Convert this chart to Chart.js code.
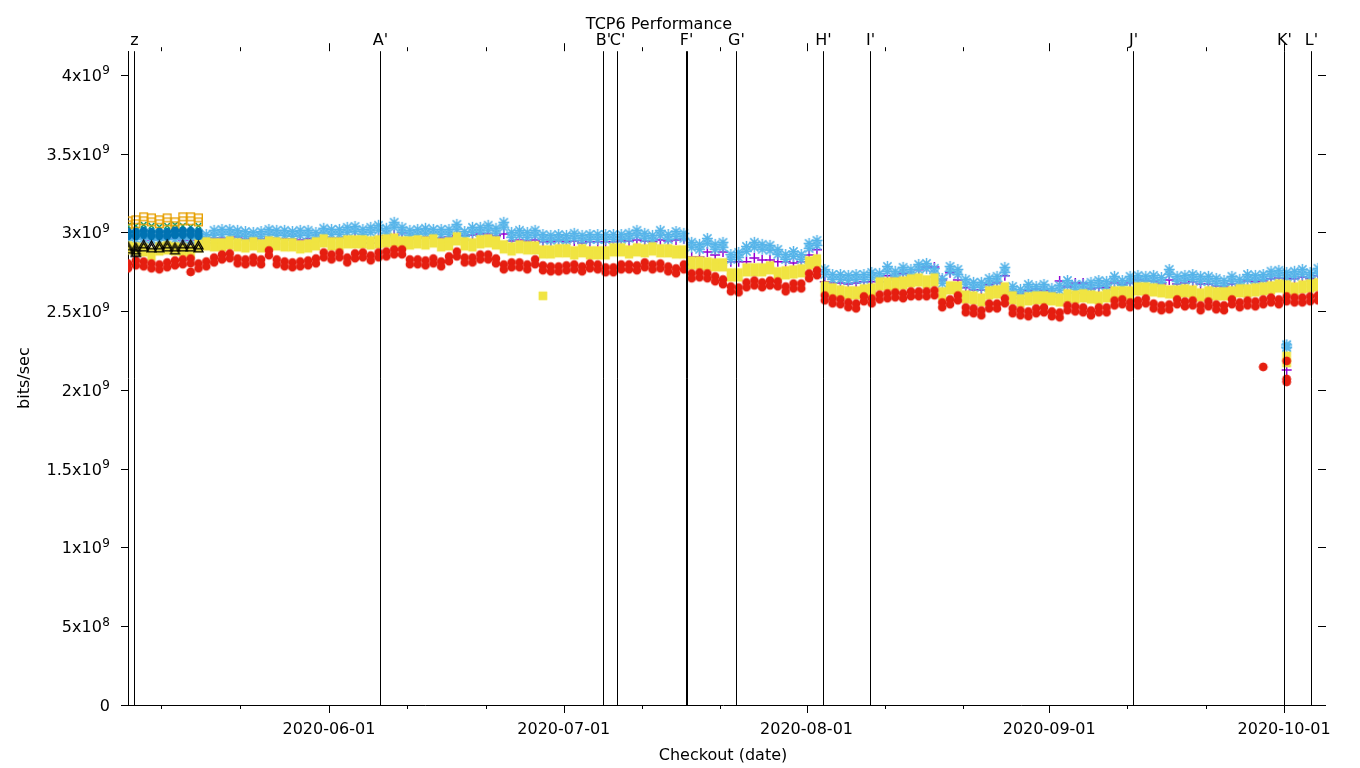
<!DOCTYPE html>
<html>
<head>
<meta charset="utf-8">
<title>TCP6 Performance</title>
<script src="https://cdn.jsdelivr.net/npm/chart.js@4.4.1/dist/chart.umd.min.js"></script>
<style>
  html, body { margin: 0; padding: 0; background: #fff; }
  canvas { display: block; }
</style>
</head>
<body>
<canvas id="grafica" width="1360" height="768"></canvas>
<script>
// una muestra por día, desde 2020-05-06 (valores en 10^9 bits/sec)
const DAY = 86400000;
const firstSample = Date.UTC(2020, 4, 6, 8);

const lightBlue = [
  2.965, 2.971, 2.978, 2.971, 2.965, 2.971, 2.971, 2.978, 2.971, 2.978,
  2.971, 2.997, 3.003, 3.003, 2.997, 2.990, 2.984, 2.990, 3.003, 2.997,
  2.997, 2.990, 2.997, 2.997, 2.984, 3.010, 3.003, 3.003, 3.016, 3.022,
  3.003, 3.016, 3.029, 3.010, 3.048, 3.016, 2.997, 3.003, 3.010, 3.003,
  3.003, 3.003, 3.035, 2.990, 3.016, 3.016, 3.029, 3.010, 3.048, 2.984,
  2.997, 2.984, 2.997, 2.971, 2.965, 2.971, 2.965, 2.978, 2.965, 2.971,
  2.971, 2.971, 2.971, 2.971, 2.978, 2.997, 2.978, 2.965, 2.997, 2.971,
  2.990, 2.978, 2.921, 2.908, 2.946, 2.908, 2.921, 2.844, 2.857, 2.895,
  2.921, 2.908, 2.902, 2.876, 2.844, 2.863, 2.844, 2.914, 2.933, 2.749,
  2.717, 2.717, 2.711, 2.717, 2.717, 2.730, 2.724, 2.768, 2.737, 2.762,
  2.749, 2.781, 2.787, 2.756, 2.692, 2.768, 2.749, 2.686, 2.667, 2.667,
  2.692, 2.705, 2.762, 2.641, 2.622, 2.654, 2.641, 2.654, 2.629, 2.648,
  2.679, 2.654, 2.654, 2.667, 2.679, 2.673, 2.705, 2.679, 2.705, 2.711,
  2.705, 2.711, 2.698, 2.749, 2.705, 2.711, 2.717, 2.705, 2.705, 2.692,
  2.679, 2.705, 2.686, 2.717, 2.711, 2.717, 2.737, 2.743, 2.730, 2.737,
  2.749, 2.730, 2.756
];
const yellow = [
  2.902, 2.895, 2.889, 2.863, 2.895, 2.902, 2.895, 2.889, 2.876, 2.914,
  2.927, 2.921, 2.921, 2.933, 2.921, 2.914, 2.927, 2.914, 2.933, 2.927,
  2.921, 2.921, 2.908, 2.914, 2.927, 2.946, 2.927, 2.927, 2.940, 2.940,
  2.940, 2.933, 2.940, 2.946, 2.952, 2.933, 2.933, 2.940, 2.933, 2.946,
  2.921, 2.927, 2.959, 2.927, 2.921, 2.940, 2.946, 2.933, 2.908, 2.895,
  2.908, 2.902, 2.902, 2.876, 2.876, 2.883, 2.883, 2.870, 2.883, 2.870,
  2.870, 2.870, 2.889, 2.889, 2.876, 2.889, 2.883, 2.895, 2.883, 2.883,
  2.876, 2.876, 2.806, 2.806, 2.800, 2.794, 2.794, 2.730, 2.730, 2.762,
  2.762, 2.762, 2.775, 2.737, 2.743, 2.749, 2.756, 2.806, 2.819, 2.648,
  2.635, 2.622, 2.616, 2.616, 2.629, 2.635, 2.673, 2.673, 2.673, 2.679,
  2.692, 2.698, 2.686, 2.698, 2.610, 2.648, 2.648, 2.590, 2.584, 2.571,
  2.616, 2.622, 2.641, 2.584, 2.565, 2.578, 2.584, 2.584, 2.578, 2.571,
  2.597, 2.590, 2.597, 2.590, 2.584, 2.597, 2.616, 2.616, 2.616, 2.641,
  2.641, 2.635, 2.629, 2.622, 2.622, 2.629, 2.622, 2.603, 2.616, 2.610,
  2.610, 2.616, 2.629, 2.629, 2.635, 2.641, 2.648, 2.660, 2.654, 2.641,
  2.654, 2.660, 2.667
];
const red = [
  2.787, 2.806, 2.800, 2.787, 2.781, 2.794, 2.806, 2.813, 2.819, 2.787,
  2.800, 2.825, 2.844, 2.851, 2.819, 2.813, 2.825, 2.813, 2.870, 2.813,
  2.800, 2.794, 2.800, 2.806, 2.819, 2.857, 2.844, 2.857, 2.825, 2.851,
  2.857, 2.838, 2.857, 2.863, 2.876, 2.876, 2.813, 2.813, 2.806, 2.819,
  2.800, 2.832, 2.863, 2.825, 2.825, 2.844, 2.844, 2.819, 2.781, 2.794,
  2.794, 2.781, 2.813, 2.775, 2.768, 2.768, 2.775, 2.781, 2.768, 2.787,
  2.781, 2.762, 2.762, 2.781, 2.781, 2.775, 2.794, 2.781, 2.787, 2.768,
  2.756, 2.781, 2.724, 2.730, 2.724, 2.705, 2.686, 2.641, 2.635, 2.667,
  2.679, 2.667, 2.679, 2.673, 2.641, 2.660, 2.660, 2.724, 2.743, 2.584,
  2.565, 2.559, 2.540, 2.533, 2.578, 2.565, 2.590, 2.597, 2.603, 2.597,
  2.610, 2.610, 2.610, 2.616, 2.540, 2.559, 2.584, 2.508, 2.502, 2.489,
  2.533, 2.533, 2.565, 2.502, 2.489, 2.483, 2.502, 2.508, 2.483, 2.476,
  2.521, 2.514, 2.508, 2.489, 2.508, 2.508, 2.552, 2.559, 2.540, 2.552,
  2.565, 2.533, 2.521, 2.527, 2.559, 2.546, 2.552, 2.521, 2.546, 2.527,
  2.521, 2.559, 2.540, 2.552, 2.546, 2.559, 2.571, 2.559, 2.578, 2.571,
  2.571, 2.578, 2.584
];
const purple = [
  2.952, 2.959, 2.959, 2.952, 2.952, 2.959, 2.959, 2.952, 2.952, 2.952,
  2.952, 2.965, 2.965, 2.959, 2.971, 2.959, 2.952, 2.959, 2.965, 2.959,
  2.959, 2.959, 2.952, 2.959, 2.959, 2.971, 2.965, 2.965, 2.971, 2.971,
  2.959, 2.933, 2.965, 2.978, 2.984, 2.997, 2.965, 2.965, 2.971, 2.965,
  2.965, 2.971, 2.978, 2.978, 2.984, 2.990, 2.990, 2.978, 2.990, 2.946,
  2.952, 2.946, 2.952, 2.940, 2.940, 2.946, 2.940, 2.946, 2.933, 2.940,
  2.940, 2.940, 2.940, 2.946, 2.946, 2.952, 2.946, 2.940, 2.952, 2.946,
  2.952, 2.959, 2.844, 2.844, 2.876, 2.857, 2.876, 2.813, 2.813, 2.813,
  2.838, 2.825, 2.825, 2.813, 2.813, 2.806, 2.813, 2.857, 2.889, 2.686,
  2.679, 2.679, 2.673, 2.679, 2.686, 2.686, 2.686, 2.724, 2.711, 2.737,
  2.724, 2.762, 2.781, 2.781, 2.698, 2.743, 2.698, 2.648, 2.635, 2.635,
  2.667, 2.679, 2.724, 2.622, 2.610, 2.629, 2.641, 2.629, 2.616, 2.692,
  2.654, 2.679, 2.679, 2.641, 2.648, 2.648, 2.679, 2.667, 2.679, 2.698,
  2.692, 2.692, 2.673, 2.698, 2.673, 2.679, 2.686, 2.673, 2.673, 2.660,
  2.654, 2.673, 2.660, 2.692, 2.686, 2.692, 2.705, 2.711, 2.705, 2.705,
  2.717, 2.705, 2.724
];
// series que solo aparecen los primeros 10 días
const orange   = [3.060, 3.067, 3.086, 3.079, 3.067, 3.079, 3.054, 3.086, 3.086, 3.079];
const green    = [3.041, 3.041, 3.048, 3.041, 3.035, 3.041, 3.048, 3.041, 3.035, 3.041];
const darkBlue = [2.990, 2.990, 2.997, 2.990, 2.990, 2.990, 2.997, 2.997, 2.997, 2.990];
const black    = [2.902, 2.895, 2.914, 2.908, 2.908, 2.914, 2.895, 2.914, 2.914, 2.908];

// muestras sueltas [día, valor]
const redExtra       = [[8, 2.749], [145, 2.146], [148, 2.184], [148, 2.070], [148, 2.051]];
const yellowExtra    = [[53, 2.597], [148, 2.216], [148, 2.171]];
const lightBlueExtra = [[148, 2.286], [148, 2.270]];
const purpleExtra    = [[148, 2.127]];
const blackExtra     = [[1, 2.870]];

// ejes
const xTickDates = ['2020-06-01', '2020-07-01', '2020-08-01', '2020-09-01', '2020-10-01'];
const xMinorDates = ['2020-05-10T14:00', '2020-05-20T14:00', '2020-06-11T00:00', '2020-06-21T00:00',
  '2020-07-11T00:00', '2020-07-21T00:00', '2020-08-11T00:00', '2020-08-21T00:00',
  '2020-09-11T00:00', '2020-09-21T00:00'];
const yTickValues = [0, 0.5e9, 1e9, 1.5e9, 2e9, 2.5e9, 3e9, 3.5e9, 4e9];
const yTickLabels = ['0', '5x10^8', '1x10^9', '1.5x10^9', '2x10^9', '2.5x10^9', '3x10^9', '3.5x10^9', '4x10^9'];

// eventos (líneas verticales)
const eventLabels = ['z', "A'", "B'", "C'", "F'", '', "G'", "H'", "I'", "J'", "K'", "L'"];
const eventDates = ['2020-05-07T02:30', '2020-06-07T12:30', '2020-07-06T00:00', '2020-07-07T19:00',
  '2020-07-16T15:00', '2020-07-16T19:00', '2020-07-23T00:00', '2020-08-03T02:30', '2020-08-09T03:00',
  '2020-09-11T17:00', '2020-10-01T00:00', '2020-10-04T10:00'];

const toMs = s => Date.parse(s.length === 10 ? s + 'T00:00:00Z' : s + ':00Z');

function serie(valores, extra) {
  const pts = valores.map((v, i) => ({ x: firstSample + i * DAY, y: v * 1e9 }));
  (extra || []).forEach(([i, v]) => pts.push({ x: firstSample + i * DAY, y: v * 1e9 }));
  return pts;
}

// glifos estilo gnuplot: varias mediciones del día se apilan en vertical
function glifo(tipo, color, r, lw, sep) {
  const w = Math.ceil(2 * r + lw + 2);
  const h = Math.ceil(2 * r + lw + 2 + sep);
  const c = document.createElement('canvas');
  c.width = w; c.height = h;
  const g = c.getContext('2d');
  g.strokeStyle = color;
  g.fillStyle = color;
  g.lineWidth = lw;
  [-sep / 2, sep / 2].forEach(dy => {
    const cx = w / 2, cy = h / 2 + dy;
    g.beginPath();
    if (tipo === 'circle') {
      g.arc(cx, cy, r, 0, Math.PI * 2);
      g.fill();
    } else if (tipo === 'rect') {
      g.fillRect(cx - r, cy - r, 2 * r, 2 * r);
    } else if (tipo === 'rectOpen') {
      g.strokeRect(cx - r, cy - r, 2 * r, 2 * r);
    } else if (tipo === 'triangle') {
      g.moveTo(cx, cy - r);
      g.lineTo(cx + r, cy + r * 0.75);
      g.lineTo(cx - r, cy + r * 0.75);
      g.closePath();
      g.stroke();
    } else if (tipo === 'star') {
      const d = r * 0.75;
      g.moveTo(cx - r, cy); g.lineTo(cx + r, cy);
      g.moveTo(cx, cy - r); g.lineTo(cx, cy + r);
      g.moveTo(cx - d, cy - d); g.lineTo(cx + d, cy + d);
      g.moveTo(cx - d, cy + d); g.lineTo(cx + d, cy - d);
      g.stroke();
    }
  });
  return c;
}

// pila para los días normales, glifo simple para las muestras sueltas
function estilo(valores, pila, simple) {
  return c => (c.dataIndex < valores.length ? pila : simple);
}

const marcasPlugin = {
  id: 'marcas',
  afterDraw(chart) {
    const { ctx, chartArea: a, scales: { x, y } } = chart;
    ctx.save();
    ctx.strokeStyle = '#000';
    ctx.fillStyle = '#000';
    ctx.lineWidth = 1;
    ctx.font = '16px "DejaVu Sans"';
    ctx.textAlign = 'center';
    ctx.textBaseline = 'alphabetic';

    // lineas de eventos
    ctx.beginPath();
    eventDates.forEach((d, i) => {
      const px = Math.round(x.getPixelForValue(toMs(d))) + 0.5;
      ctx.moveTo(px, a.top);
      ctx.lineTo(px, a.bottom);
      if (eventLabels[i]) ctx.fillText(eventLabels[i], px, a.top - 6);
    });
    ctx.stroke();

    // ticks hacia afuera (abajo, arriba, izquierda, derecha)
    ctx.beginPath();
    x.ticks.forEach(t => {
      const px = Math.round(x.getPixelForValue(t.value)) + 0.5;
      ctx.moveTo(px, a.bottom); ctx.lineTo(px, a.bottom + 8);
      ctx.moveTo(px, a.top); ctx.lineTo(px, a.top - 8);
    });
    xMinorDates.forEach(d => {
      const px = Math.round(x.getPixelForValue(toMs(d))) + 0.5;
      ctx.moveTo(px, a.bottom); ctx.lineTo(px, a.bottom + 4);
      ctx.moveTo(px, a.top); ctx.lineTo(px, a.top - 4);
    });
    y.ticks.forEach(t => {
      const py = Math.round(y.getPixelForValue(t.value)) + 0.5;
      ctx.moveTo(a.left - 7, py); ctx.lineTo(a.left, py);
      ctx.moveTo(a.right, py); ctx.lineTo(a.right + 8, py);
    });
    ctx.stroke();

    // etiquetas del eje y con exponente elevado
    ctx.textAlign = 'right';
    y.ticks.forEach((t, i) => {
      const py = y.getPixelForValue(t.value);
      const [base, exp] = yTickLabels[i].split('^');
      let right = a.left - 18;
      if (exp) {
        ctx.font = '12px "DejaVu Sans"';
        ctx.fillText(exp, right, py - 0.5);
        right -= ctx.measureText(exp).width + 0.5;
      }
      ctx.font = '16px "DejaVu Sans"';
      ctx.fillText(base, right, py + 6);
    });
    ctx.restore();
  }
};

Chart.defaults.font.family = '"DejaVu Sans", sans-serif';
Chart.defaults.font.size = 16;
Chart.defaults.color = '#000';

const ctx = document.getElementById('grafica').getContext('2d');
new Chart(ctx, {
  type: 'scatter',
  data: {
    datasets: [
      { label: 'black', data: serie(black, blackExtra),
        pointStyle: estilo(black, glifo('triangle', '#000000', 4.5, 1.3, 3), glifo('triangle', '#000000', 4.5, 1.3, 0)) },
      { label: 'red', data: serie(red, redExtra),
        pointStyle: estilo(red, glifo('circle', '#e51e10', 4.3, 1, 5), glifo('circle', '#e51e10', 4.3, 1, 0)) },
      { label: 'darkBlue', data: serie(darkBlue), pointStyle: glifo('circle', '#0072b2', 4.2, 1, 4) },
      { label: 'yellow', data: serie(yellow, yellowExtra),
        pointStyle: estilo(yellow, glifo('rect', '#f0e442', 4.2, 1, 5), glifo('rect', '#f0e442', 4.2, 1, 0)) },
      { label: 'orange', data: serie(orange), pointStyle: glifo('rectOpen', '#e69f00', 3.8, 1.4, 4) },
      { label: 'lightBlue', data: serie(lightBlue, lightBlueExtra),
        pointStyle: estilo(lightBlue, glifo('star', '#56b4e9', 5.5, 1.5, 5), glifo('star', '#56b4e9', 5.5, 1.5, 0)) },
      { label: 'green', data: serie(green), pointStyle: 'crossRot', pointRadius: 4,
        borderWidth: 1.5, borderColor: '#009e73' },
      { label: 'purple', data: serie(purple, purpleExtra), pointStyle: 'cross', pointRadius: 5,
        borderWidth: 1.5, borderColor: '#9400d3' }
    ]
  },
  options: {
    responsive: false,
    animation: false,
    events: [],
    layout: { padding: { left: 0, right: 42, top: 0, bottom: 0 } },
    scales: {
      x: {
        type: 'linear',
        min: firstSample,
        max: firstSample + (red.length - 1) * DAY,
        afterFit: s => { s.height = 63; },
        afterBuildTicks: s => { s.ticks = xTickDates.map(d => ({ value: toMs(d) })); },
        grid: { display: true, drawOnChartArea: false, drawTicks: false },
        border: { display: true, color: '#000', width: 1 },
        ticks: {
          autoSkip: false, maxRotation: 0, minRotation: 0, padding: 15,
          callback: (v, i) => xTickDates[i]
        },
        title: { display: true, text: 'Checkout (date)', padding: { top: 0, bottom: 3 } }
      },
      y: {
        min: 0,
        max: 4.15e9,
        afterFit: s => { s.width = 128; },
        afterBuildTicks: s => { s.ticks = yTickValues.map(v => ({ value: v })); },
        grid: { display: true, drawOnChartArea: false, drawTicks: false },
        border: { display: true, color: '#000', width: 1 },
        ticks: { display: false },
        title: { display: true, text: 'bits/sec', padding: { top: 15, bottom: 0 } }
      }
    },
    plugins: {
      legend: { display: false },
      tooltip: { enabled: false },
      title: { display: true, text: 'TCP6 Performance', font: { size: 16, weight: 'normal' },
        color: '#000', padding: { top: 15, bottom: 17 } }
    }
  },
  plugins: [marcasPlugin]
});
</script>
</body>
</html>
